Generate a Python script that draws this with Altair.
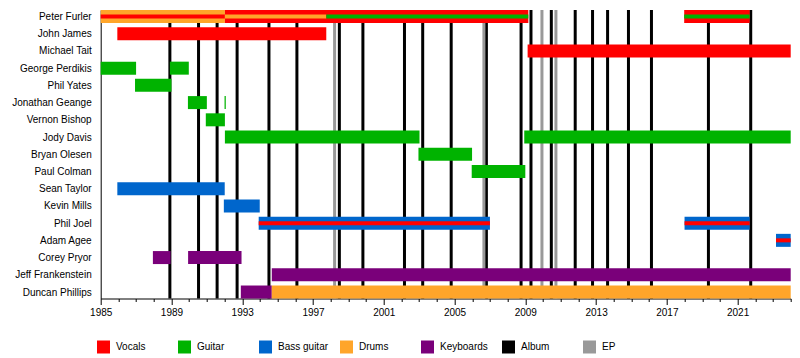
import altair as alt
import pandas as pd

members = ["Peter Furler", "John James", "Michael Tait", "George Perdikis", "Phil Yates",
           "Jonathan Geange", "Vernon Bishop", "Jody Davis", "Bryan Olesen", "Paul Colman",
           "Sean Taylor", "Kevin Mills", "Phil Joel", "Adam Agee", "Corey Pryor",
           "Jeff Frankenstein", "Duncan Phillips"]

roles = ["Vocals", "Guitar", "Bass guitar", "Drums", "Keyboards", "Album", "EP"]
role_colors = ["#FF0000", "#00B300", "#0066CC", "#FFA52A", "#7A007A", "#000000", "#999999"]

END = 2024.0

# main bars
bar_member = ["Peter Furler", "Peter Furler", "Peter Furler",
              "John James", "Michael Tait",
              "George Perdikis", "George Perdikis", "Phil Yates",
              "Jonathan Geange", "Jonathan Geange", "Vernon Bishop",
              "Jody Davis", "Jody Davis", "Bryan Olesen", "Paul Colman",
              "Sean Taylor", "Kevin Mills", "Phil Joel", "Phil Joel", "Adam Agee",
              "Corey Pryor", "Corey Pryor", "Jeff Frankenstein",
              "Duncan Phillips", "Duncan Phillips"]
bar_start = [1985.0, 1992.02, 2017.98,
             1985.94, 2009.13,
             1985.0, 1988.91, 1986.94,
             1989.93, 1992.0, 1990.94,
             1992.02, 2008.94, 2002.96, 2005.97,
             1985.94, 1991.96, 1993.93, 2018.0, 2023.17,
             1987.95, 1989.94, 1994.67,
             1992.92, 1994.67]
bar_end = [1992.02, 2009.17, 2021.68,
           1997.75, END,
           1987.0, 1989.98, 1989.0,
           1991.0, 1992.07, 1992.02,
           2003.02, END, 2005.99, 2009.0,
           1992.01, 1993.99, 2007.0, 2021.68, END,
           1988.95, 1992.96, END,
           1994.67, END]
bar_role = ["Drums", "Vocals", "Vocals",
            "Vocals", "Vocals",
            "Guitar", "Guitar", "Guitar",
            "Guitar", "Guitar", "Guitar",
            "Guitar", "Guitar", "Guitar", "Guitar",
            "Bass guitar", "Bass guitar", "Bass guitar", "Bass guitar", "Bass guitar",
            "Keyboards", "Keyboards", "Keyboards",
            "Keyboards", "Drums"]

# secondary roles (thin inner stripes)
inner_member = ["Peter Furler", "Peter Furler", "Peter Furler", "Peter Furler",
                "Phil Joel", "Phil Joel", "Adam Agee"]
inner_start = [1985.0, 1992.02, 1997.75, 2017.98, 1993.93, 2018.0, 2023.17]
inner_end = [1992.02, 1997.75, 2009.17, 2021.68, 2007.0, 2021.68, END]
inner_role = ["Vocals", "Drums", "Guitar", "Guitar", "Vocals", "Vocals", "Vocals"]

album_years = [1988.91, 1990.53, 1991.58, 1992.71, 1994.51, 1996.09, 1998.49, 1999.82,
               2002.17, 2003.2, 2004.81, 2006.8, 2008.76, 2009.32, 2010.47, 2011.82,
               2012.8, 2013.65, 2014.83, 2016.13, 2019.35, 2021.74]
ep_years = [1998.22, 2006.66, 2009.94, 2010.73]

tick_years = list(range(1985, 2025))

bars = pd.DataFrame({"member": bar_member, "start": bar_start, "end": bar_end, "role": bar_role})
inner = pd.DataFrame({"member": inner_member, "start": inner_start, "end": inner_end, "role": inner_role})
lines = pd.DataFrame({"start": album_years + ep_years,
                      "role": ["Album"] * len(album_years) + ["EP"] * len(ep_years)})

FONT = "Liberation Sans"

xscale = alt.Scale(domain=[1985, END], nice=False, zero=False)
xaxis = alt.Axis(values=tick_years, title=None, grid=False,
                 labelExpr="datum.value % 4 === 1 ? format(datum.value, 'd') : ''",
                 tickSize={"condition": {"test": "datum.value % 4 === 1", "value": 6}, "value": 3},
                 labelOverlap=False, labelFlush=False, labelPadding=3,
                 labelFont=FONT, labelFontSize=10, labelColor="#000000",
                 domainColor="#000000", tickColor="#000000")
yscale = alt.Scale(type="point", padding=0.377)
yaxis = alt.Axis(title=None, ticks=False, tickSize=0, labelPadding=9.5, grid=False,
                 labelFont=FONT, labelFontSize=10, labelColor="#000000",
                 domainColor="#000000")
cscale = alt.Scale(domain=roles, range=role_colors)
legend = alt.Legend(title=None, orient="none", direction="horizontal", columns=7,
                    legendX=-3.7, legendY=330.5, symbolType="square", symbolSize=169,
                    symbolStrokeWidth=0, symbolOpacity=1, labelFont=FONT,
                    labelFontSize=10, labelColor="#000000", labelOffset=6,
                    columnPadding=11, gridAlign="all")

rule_layer = alt.Chart(lines).mark_rule(strokeWidth=3).encode(
    x=alt.X("start:Q", scale=xscale, axis=xaxis),
    color=alt.Color("role:N", scale=cscale, legend=legend),
)
bar_layer = alt.Chart(bars).mark_bar(size=13).encode(
    x=alt.X("start:Q", scale=xscale, axis=xaxis),
    x2="end:Q",
    y=alt.Y("member:N", sort=members, scale=yscale, axis=yaxis),
    color=alt.Color("role:N", scale=cscale, legend=legend),
)
inner_layer = alt.Chart(inner).mark_bar(size=4).encode(
    x=alt.X("start:Q", scale=xscale, axis=xaxis),
    x2="end:Q",
    y=alt.Y("member:N", sort=members, scale=yscale, axis=yaxis),
    color=alt.Color("role:N", scale=cscale, legend=legend),
)

chart = alt.layer(rule_layer, bar_layer, inner_layer).properties(
    width=690, height=288.5,
    autosize=alt.AutoSizeParams(type="none"),
    padding={"left": 92.7, "top": 2, "right": 1.3, "bottom": 59.5},
    background="#ffffff",
).configure_view(stroke=None)

chart.save("out.html", embed_options={"renderer": "svg", "actions": False})
